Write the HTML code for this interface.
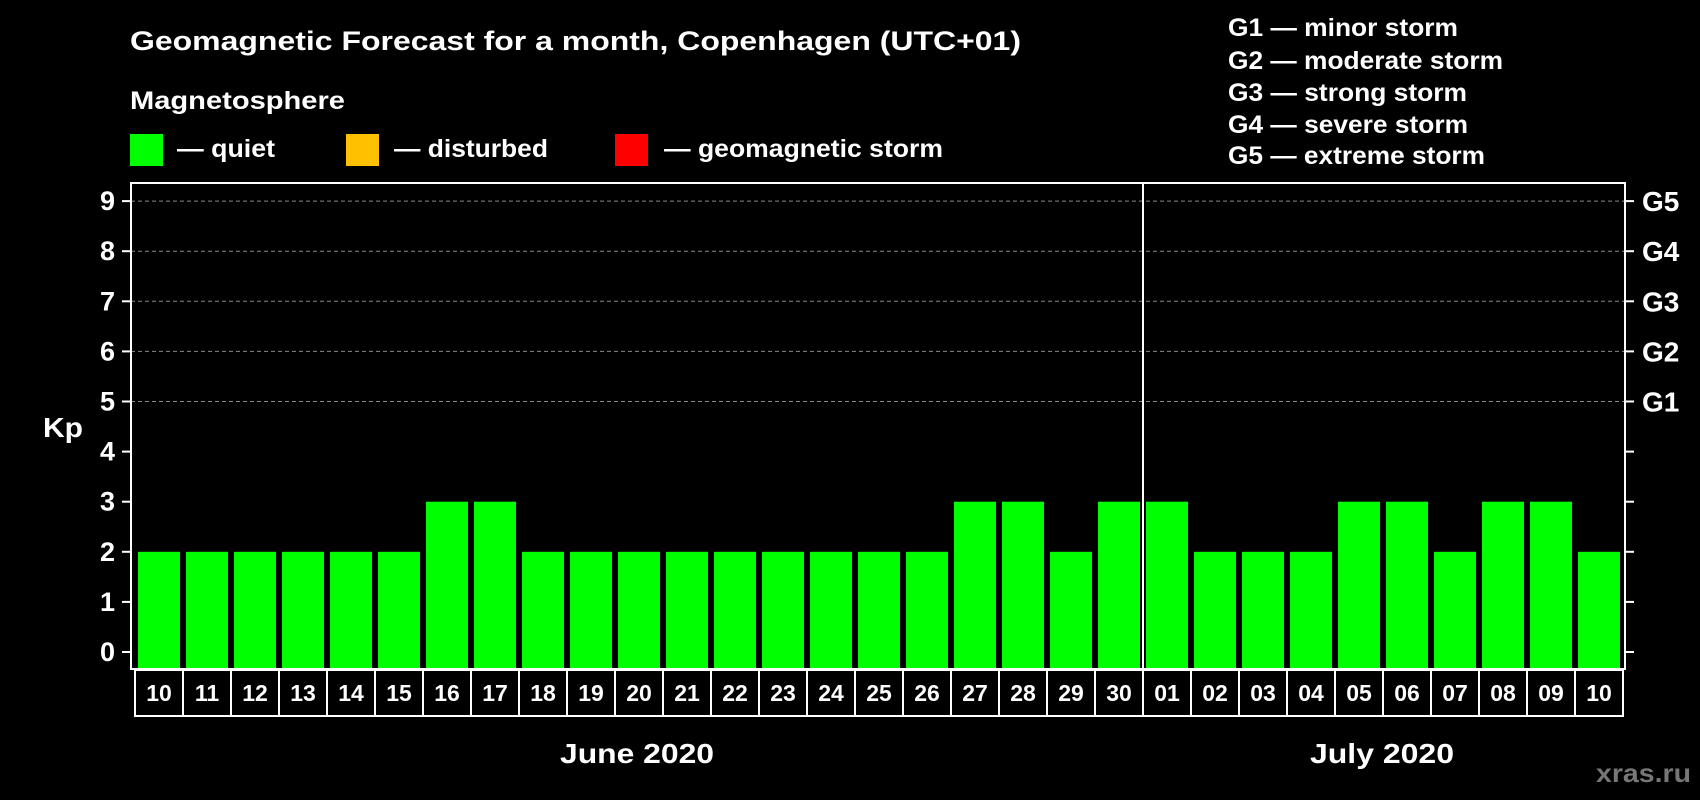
<!DOCTYPE html>
<html><head><meta charset="utf-8"><style>
html,body{margin:0;padding:0;background:#000;}
svg{display:block;font-family:"Liberation Sans",Arial,sans-serif;font-weight:bold;}
</style></head><body>
<svg id="chart" width="1700" height="800" viewBox="0 0 1700 800">
<text x="130" y="50" fill="#fff" font-size="27" textLength="891" lengthAdjust="spacingAndGlyphs">Geomagnetic Forecast for a month, Copenhagen (UTC+01)</text>
<text x="130" y="109" fill="#fff" font-size="25" textLength="215" lengthAdjust="spacingAndGlyphs">Magnetosphere</text>
<rect x="130" y="134" width="33" height="32" fill="#00ff00"/>
<text x="177" y="157" fill="#fff" font-size="25" textLength="98" lengthAdjust="spacingAndGlyphs">— quiet</text>
<rect x="346" y="134" width="33" height="32" fill="#ffc000"/>
<text x="394" y="157" fill="#fff" font-size="25" textLength="154" lengthAdjust="spacingAndGlyphs">— disturbed</text>
<rect x="615" y="134" width="33" height="32" fill="#ff0000"/>
<text x="664" y="157" fill="#fff" font-size="25" textLength="279" lengthAdjust="spacingAndGlyphs">— geomagnetic storm</text>
<g fill="#fff" font-size="25">
<text x="1228" y="36" textLength="230" lengthAdjust="spacingAndGlyphs">G1 — minor storm</text>
<text x="1228" y="69" textLength="275" lengthAdjust="spacingAndGlyphs">G2 — moderate storm</text>
<text x="1228" y="101" textLength="239" lengthAdjust="spacingAndGlyphs">G3 — strong storm</text>
<text x="1228" y="133" textLength="240" lengthAdjust="spacingAndGlyphs">G4 — severe storm</text>
<text x="1228" y="164" textLength="257" lengthAdjust="spacingAndGlyphs">G5 — extreme storm</text>
</g>
<text x="43" y="437" fill="#fff" font-size="28" textLength="40" lengthAdjust="spacingAndGlyphs">Kp</text>
<g id="grid"></g><g id="bars"></g><g id="axes"></g>
<text x="560" y="763" fill="#fff" font-size="28" textLength="154" lengthAdjust="spacingAndGlyphs">June 2020</text>
<text x="1310" y="763" fill="#fff" font-size="28" textLength="144" lengthAdjust="spacingAndGlyphs">July 2020</text>
<text x="1596" y="782" fill="#777" font-size="26" textLength="95" lengthAdjust="spacingAndGlyphs">xras.ru</text>
</svg>
<script>
const days=["10","11","12","13","14","15","16","17","18","19","20","21","22","23","24","25","26","27","28","29","30","01","02","03","04","05","06","07","08","09","10"];
const kpValues=[2,2,2,2,2,2,3,3,2,2,2,2,2,2,2,2,2,3,3,2,3,3,2,2,2,3,3,2,3,3,2];
const yTicks=[0,1,2,3,4,5,6,7,8,9];
const gLabels=["G1","G2","G3","G4","G5"];
const gLevels=[5,6,7,8,9];
const NS="http://www.w3.org/2000/svg";
const L=131,R=1625,T=183,B=669,X0=134,STEP=48;
function y(v){return 652-v*50.1;}
function x(i){return X0+i*STEP;}
function mk(tag,attrs,parent){const e=document.createElementNS(NS,tag);for(const k in attrs)e.setAttribute(k,attrs[k]);parent.appendChild(e);return e;}
const grid=document.getElementById('grid'),bars=document.getElementById('bars'),axes=document.getElementById('axes');
gLevels.forEach((v)=>{const l=mk('line',{x1:L,x2:R,y1:y(v),y2:y(v),stroke:'#888','stroke-dasharray':'4,3','stroke-width':1},grid);

});
kpValues.forEach((v,i)=>{const r=mk('rect',{x:x(i)+4,y:y(v),width:42,height:B-y(v),fill:v>=5?'#ff0000':(v>=4?'#ffc000':'#00ff00')},bars);

});
const box=mk('rect',{x:L,y:T,width:R-L,height:B-T,fill:'none',stroke:'#fff','stroke-width':2},axes);


const div=mk('line',{x1:x(21)+1,x2:x(21)+1,y1:T,y2:B,stroke:'#fff','stroke-width':2},axes);


yTicks.forEach(v=>{
const t1=mk('line',{x1:122,x2:L,y1:y(v),y2:y(v),stroke:'#fff','stroke-width':2},axes);


const t2=mk('line',{x1:R,x2:1634,y1:y(v),y2:y(v),stroke:'#fff','stroke-width':2},axes);


const tx=mk('text',{x:115,y:y(v)+9,fill:'#fff','font-size':27,'text-anchor':'end'},axes);tx.textContent=v;

});
gLabels.forEach((g,i)=>{const tx=mk('text',{x:1642,y:y(gLevels[i])+10,fill:'#fff','font-size':28},axes);tx.textContent=g;

});
days.forEach((d,i)=>{const c=mk('rect',{x:x(i)+1,y:670,width:STEP,height:46,fill:'none',stroke:'#fff','stroke-width':2},axes);


const tx=mk('text',{x:x(i)+1+STEP/2,y:701,fill:'#fff','font-size':23,'text-anchor':'middle'},axes);tx.textContent=d;

});
</script>
</body></html>
